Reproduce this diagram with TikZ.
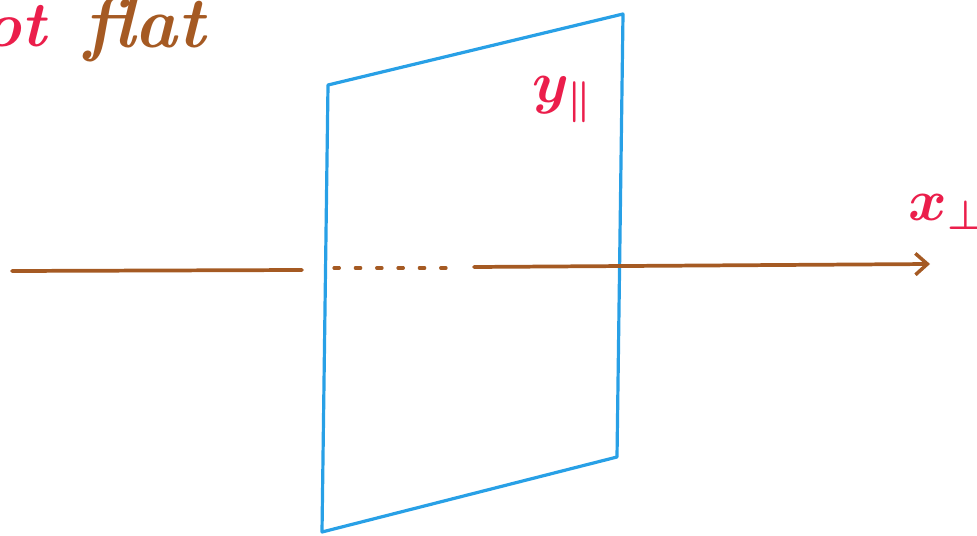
\RequirePackage{fix-cm}
\documentclass[tikz,border=0pt]{standalone}
\usetikzlibrary{arrows.meta}
\definecolor{penbrown}{RGB}{165,90,35}
\definecolor{penblue}{RGB}{40,160,230}
\definecolor{penred}{RGB}{235,30,75}
\tikzset{
  axis/.style={draw=penbrown,line width=2.8pt,line cap=round},
  plane/.style={draw=penblue,line width=2.4pt,line join=round},
  redlabel/.style={text=penred,font=\fontsize{44}{44}\selectfont\boldmath,inner sep=0pt},
  brownlabel/.style={text=penbrown,font=\itshape\bfseries\fontsize{54}{54}\selectfont,inner sep=0pt},
}
\begin{document}
\begin{tikzpicture}[x=0.75pt,y=-0.75pt]
\useasboundingbox (0,0) rectangle (977,535);
% text at top
\node[redlabel,font=\itshape\bfseries\fontsize{48}{48}\selectfont,anchor=base east] (ot) at (46,46) {ot};
\node[brownlabel,anchor=base west] (flat) at (84,48) {flat};
% plane
\coordinate (p1) at (328,85);
\coordinate (p2) at (623,14);
\coordinate (p3) at (617,457);
\coordinate (p4) at (322,532);
\draw[plane] (p1) -- (p2) -- (p3) -- (p4) -- cycle;
% axis
\coordinate (a0) at (12,271);
\coordinate (a1) at (302,270);
\coordinate (d0) at (334,268);
\coordinate (d1) at (452,268);
\coordinate (b0) at (474,267);
\coordinate (b1) at (930,264);
\draw[axis] (a0) -- (a1);
\draw[axis,line width=2.4pt,dash pattern=on 4pt off 12pt] (d0) -- (d1);
\draw[axis,-{Straight Barb[length=9pt,width=16pt,line width=2.6pt]}] (b0) -- (b1);
% labels
\node[redlabel] (xl) at (947,212) {$x_{\perp}$};
\node[redlabel] (yl) at (562,100) {$y_{\parallel}$};
\end{tikzpicture}
\end{document}
